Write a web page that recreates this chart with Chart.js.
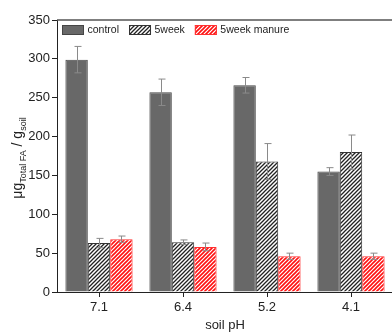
<!DOCTYPE html>
<html>
<head>
<meta charset="utf-8">
<script src="https://cdn.jsdelivr.net/npm/chart.js@4"></script>
<style>
  html, body { margin: 0; padding: 0; background: #fff; overflow: hidden; }
  #wrap { width: 396px; height: 334px; }
</style>
</head>
<body>
<div id="wrap"><canvas id="chart"></canvas></div>
<script>
// --- Data ---
const categories = ["7.1", "6.4", "5.2", "4.1"];
const controlVals = [299, 257, 266, 155];
const controlErr = [17, 17, 10, 5];
const week5Vals = [63, 64, 168, 180];
const week5Err = [6, 3, 23, 22];
const manureVals = [68, 58, 46, 46];
const manureErr = [4, 5, 4, 4];
const yTicks = [0, 50, 100, 150, 200, 250, 300, 350];

const FONT = "'Liberation Sans', Arial, sans-serif";

// diagonal hatch pattern "////"
function makeHatch(color, lw) {
  const s = 4;
  const c = document.createElement("canvas");
  c.width = s; c.height = s;
  const g = c.getContext("2d");
  g.fillStyle = "#fff";
  g.fillRect(0, 0, s, s);
  g.strokeStyle = color;
  g.lineWidth = lw;
  g.beginPath();
  g.moveTo(0, s); g.lineTo(s, 0);
  g.moveTo(-1, 1); g.lineTo(1, -1);
  g.moveTo(s - 1, s + 1); g.lineTo(s + 1, s - 1);
  g.stroke();
  return g.createPattern(c, "repeat");
}

const ctx = document.getElementById("chart").getContext("2d");

// error bars drawn through the scales
const errorBars = {
  id: "errorBars",
  afterDatasetsDraw(chart) {
    const c = chart.ctx, y = chart.scales.y;
    const errs = [controlErr, week5Err, manureErr];
    c.save();
    c.strokeStyle = "#8a8a8a";
    c.lineWidth = 1;
    chart.data.datasets.forEach((ds, i) => {
      chart.getDatasetMeta(i).data.forEach((bar, j) => {
        const v = ds.data[j], e = errs[i][j];
        const x = Math.round(bar.x) + 0.5;
        const top = y.getPixelForValue(v + e), bot = y.getPixelForValue(v - e);
        c.beginPath();
        c.moveTo(x, top); c.lineTo(x, bot);
        c.moveTo(x - 3, top); c.lineTo(x + 4, top);
        c.moveTo(x - 3, bot); c.lineTo(x + 4, bot);
        c.stroke();
      });
    });
    c.restore();
  }
};

// legend in one row inside the plot area, from the datasets
const insideLegend = {
  id: "insideLegend",
  afterDatasetsDraw(chart) {
    const c = chart.ctx, a = chart.chartArea;
    c.save();
    c.font = "10.5px " + FONT;
    c.textBaseline = "middle";
    let x = a.left + 5;
    const yc = a.top + 10;
    chart.data.datasets.forEach(ds => {
      c.fillStyle = ds.backgroundColor;
      c.fillRect(x, yc - 5, 22, 10);
      c.strokeStyle = ds.borderColor;
      c.lineWidth = 1;
      c.strokeRect(x + 0.5, yc - 4.5, 21, 9);
      c.fillStyle = "#222";
      c.fillText(ds.label, x + 25.5, yc + 0.5);
      x += 25.5 + c.measureText(ds.label).width + 10;
    });
    c.restore();
  }
};

// top frame line and rotated y title with subscripts
const frame = {
  id: "frame",
  afterDraw(chart) {
    const c = chart.ctx, a = chart.chartArea;
    c.save();
    c.strokeStyle = "#555";
    c.lineWidth = 1.5;
    c.beginPath();
    c.moveTo(a.left, a.top); c.lineTo(a.right + 5, a.top);
    c.stroke();

    const parts = [
      ["μg", 14, 0], ["Total FA", 9, 4], [" / g", 14, 0], ["soil", 9, 4]
    ];
    let total = 0;
    parts.forEach(p => { c.font = p[1] + "px " + FONT; total += c.measureText(p[0]).width; });
    c.translate(22, 158);
    c.rotate(-Math.PI / 2);
    c.fillStyle = "#222";
    c.textBaseline = "alphabetic";
    let x = -total / 2;
    parts.forEach(p => {
      c.font = p[1] + "px " + FONT;
      c.fillText(p[0], x, p[2]);
      x += c.measureText(p[0]).width;
    });
    c.restore();
  }
};

new Chart(ctx, {
  type: "bar",
  data: {
    labels: categories,
    datasets: [
      { label: "control", data: controlVals, backgroundColor: "#686868", borderColor: "#454545", borderWidth: 1 },
      { label: "5week", data: week5Vals, backgroundColor: makeHatch("#222", 1.3), borderColor: "#333", borderWidth: 1 },
      { label: "5week manure", data: manureVals, backgroundColor: makeHatch("#ff1010", 1.6), borderColor: "#ff3030", borderWidth: 1 }
    ]
  },
  options: {
    responsive: true,
    maintainAspectRatio: false,
    animation: false,
    layout: { padding: { top: 20, right: 3, left: 0, bottom: 0 } },
    datasets: { bar: { categoryPercentage: 0.8, barPercentage: 1.0 } },
    plugins: {
      tooltip: { enabled: false },
      legend: { display: false }
    },
    scales: {
      x: {
        grid: { display: true, drawOnChartArea: false, offset: false, tickLength: 5, color: "#222" },
        border: { color: "#222", width: 1 },
        ticks: { color: "#222", font: { family: FONT, size: 13 }, padding: 3 },
        title: { display: true, text: "soil pH", color: "#222", font: { family: FONT, size: 13 }, padding: { top: 2, bottom: 1 } },
        afterFit(s) { s.height = 42; }
      },
      y: {
        min: 0, max: 350,
        afterBuildTicks(s) { s.ticks = yTicks.map(v => ({ value: v })); },
        grid: { display: true, drawOnChartArea: false, tickLength: 5, color: "#222" },
        border: { color: "#222", width: 1 },
        ticks: { color: "#222", font: { family: FONT, size: 13 }, padding: 2 },
        afterFit(s) { s.width = 57; }
      }
    }
  },
  plugins: [errorBars, insideLegend, frame]
});
</script>
</body>
</html>
